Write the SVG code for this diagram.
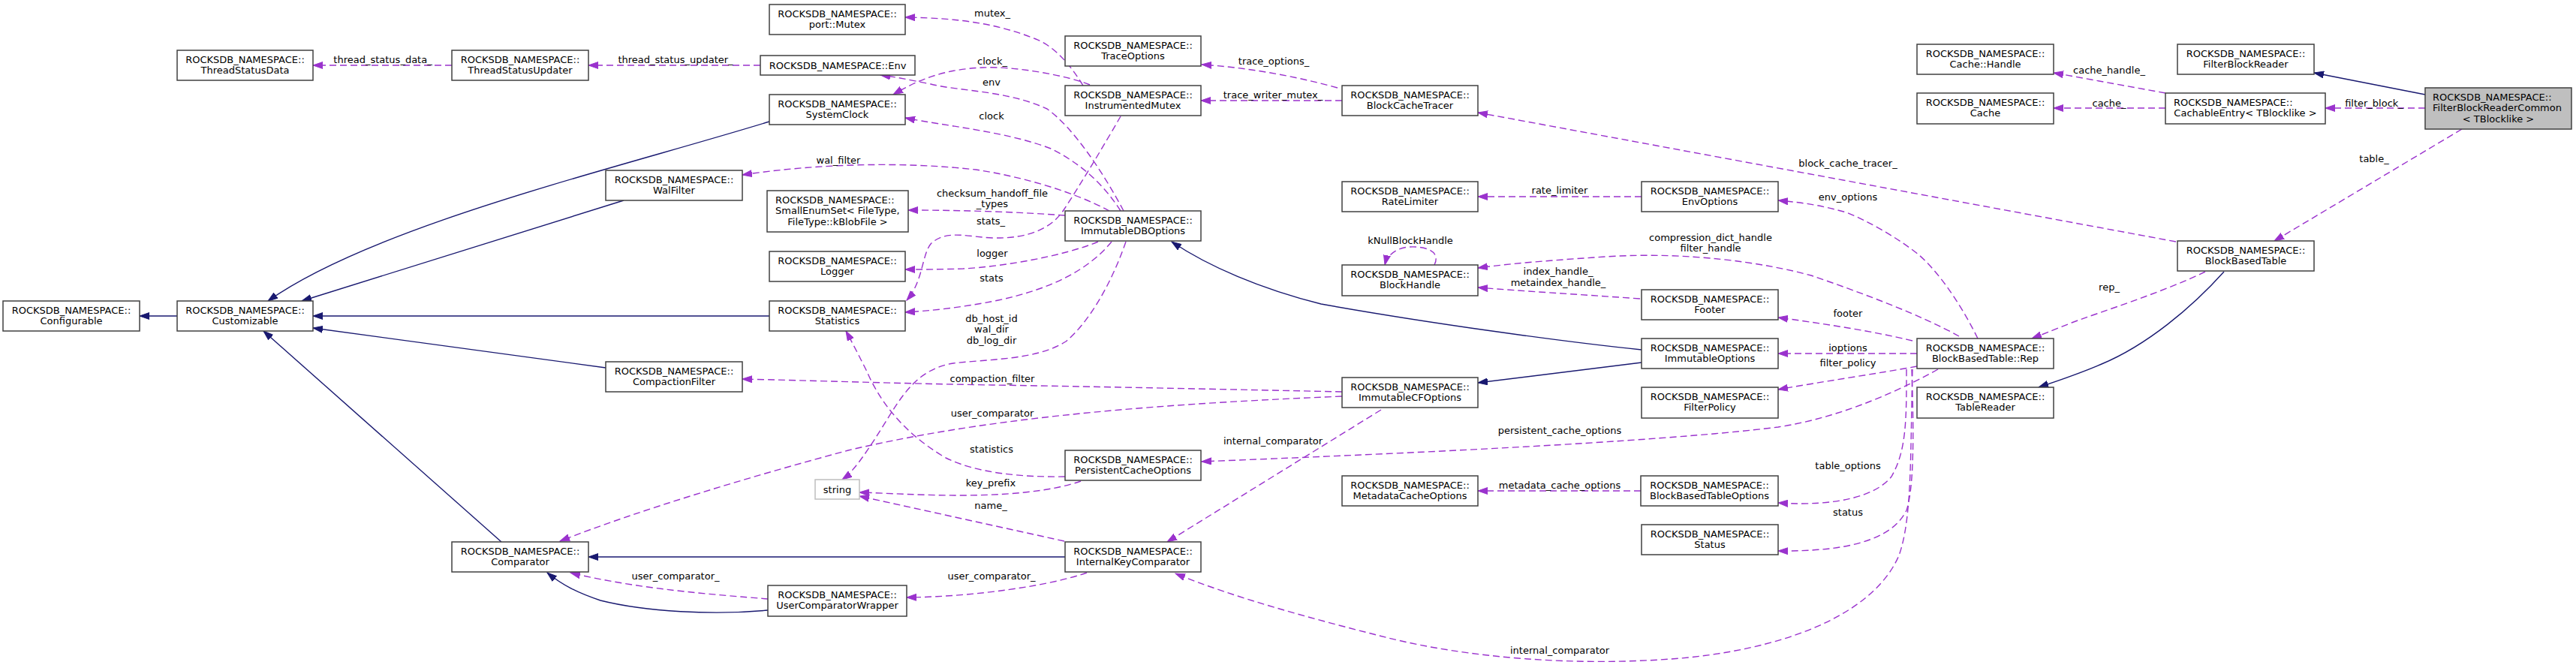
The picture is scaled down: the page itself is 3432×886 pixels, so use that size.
<svg xmlns="http://www.w3.org/2000/svg" width="3432" height="886" viewBox="0 0 3432 886">
<style>
text{font-family:"DejaVu Sans","Liberation Sans",sans-serif;font-size:13px;fill:#000}
.c{text-anchor:middle}
.n rect{fill:#fff;stroke:#404040;stroke-width:1.5}
.g rect{stroke:#bfbfbf}
.m rect{fill:#bfbfbf}
.i{stroke:#191970;fill:none;stroke-width:1.4;marker-end:url(#an)}
.d{stroke:#9a32cd;fill:none;stroke-width:1.4;stroke-dasharray:9,5;marker-end:url(#ap)}
</style>
<defs>
<marker id="an" markerUnits="userSpaceOnUse" markerWidth="14" markerHeight="10" refX="13" refY="5" orient="auto"><path d="M0,0.5 L13,5 L0,9.5 z" fill="#191970" stroke="#191970"/></marker>
<marker id="ap" markerUnits="userSpaceOnUse" markerWidth="14" markerHeight="10" refX="13" refY="5" orient="auto"><path d="M0,0.5 L13,5 L0,9.5 z" fill="#9a32cd" stroke="#9a32cd"/></marker>
</defs>
<rect width="3432" height="886" fill="#fff"/>
<g id="connectors">
<path class="i" d="M236,421 L186,421"/>
<path class="i" d="M1025,162 C820,225 500,300 357,401"/>
<path class="i" d="M831,267 L402,401"/>
<path class="i" d="M1025,421 L417,421"/>
<path class="i" d="M807,490 L417,437"/>
<path class="i" d="M668,722 L351,441"/>
<path class="i" d="M1419,742 L784,742"/>
<path class="i" d="M1023,813 C950,820 860,815 800,800 C770,790 750,780 729,763"/>
<path class="i" d="M2187,466 C2080,455 1900,430 1760,405 C1680,385 1610,355 1561,322"/>
<path class="i" d="M2187,483 L1969,510"/>
<path class="i" d="M3231,126 L3083,97"/>
<path class="i" d="M2963,362 C2920,410 2860,460 2800,485 C2770,498 2740,508 2716,516"/>

<path class="d" d="M602,87 L417,87"/>
<text class="c" x="510" y="83.5">thread_status_data_</text>
<path class="d" d="M1013,87 L784,87"/>
<text class="c" x="900" y="83.5">thread_status_updater_</text>
<path class="d" d="M1443,114 C1425,85 1405,62 1380,52 C1330,32 1280,24 1206,23"/>
<text class="c" x="1322" y="21.5">mutex_</text>
<path class="d" d="M1452,113 C1420,100 1350,88 1310,90 C1260,92 1225,105 1190,126"/>
<text class="c" x="1322" y="86">clock_</text>
<path class="d" d="M1497,281 C1470,230 1430,170 1395,145 C1340,120 1280,122 1240,112 C1210,106 1190,102 1173,100"/>
<text class="c" x="1321" y="114">env</text>
<path class="d" d="M1493,281 C1470,245 1440,218 1400,198 C1340,175 1260,168 1206,157"/>
<text class="c" x="1321" y="159">clock</text>
<path class="d" d="M1478,281 C1430,255 1360,235 1300,226 C1200,215 1090,218 989,233"/>
<text class="c" x="1117" y="217.5">wal_filter</text>
<path class="d" d="M1419,287 C1350,282 1280,280 1210,280"/>
<text class="c" x="1322" y="261.5">checksum_handoff_file</text>
<text class="c" x="1322" y="275.5">_types</text>
<path class="d" d="M1493,155 C1470,195 1440,245 1417,280 C1400,305 1370,318 1323,317 C1290,316 1260,305 1240,325 C1228,340 1230,375 1208,400"/>
<text class="c" x="1320" y="298.5">stats_</text>
<path class="d" d="M1463,322 C1420,340 1340,355 1283,358 C1250,359 1230,359 1206,359"/>
<text class="c" x="1322" y="341.5">logger</text>
<path class="d" d="M1481,322 C1450,360 1400,385 1330,400 C1280,410 1240,414 1206,416"/>
<text class="c" x="1321" y="374.5">stats</text>
<path class="d" d="M1500,322 C1480,380 1450,430 1420,455 C1380,480 1320,478 1270,484 C1220,492 1200,530 1175,570 C1150,610 1135,630 1122,639"/>
<text class="c" x="1321" y="428.5">db_host_id</text>
<text class="c" x="1321" y="442.5">wal_dir</text>
<text class="c" x="1321" y="457.5">db_log_dir</text>
<path class="d" d="M1419,635 C1360,636 1300,630 1260,610 C1200,575 1170,530 1155,495 C1140,465 1132,450 1127,441"/>
<text class="c" x="1321" y="602.5">statistics</text>
<path class="d" d="M1440,641 C1400,655 1340,660 1280,660 C1230,660 1180,657 1145,656"/>
<text class="c" x="1320" y="647.5">key_prefix</text>
<path class="d" d="M1418,721 L1145,661"/>
<text class="c" x="1320" y="677.5">name_</text>
<path class="d" d="M1448,763 C1400,780 1300,795 1208,796"/>
<text class="c" x="1321" y="771.5">user_comparator_</text>
<path class="d" d="M1023,798 C950,792 850,785 760,763"/>
<text class="c" x="900" y="771.5">user_comparator_</text>
<path class="d" d="M1788,522 C1600,518 1400,514 1322,513 C1200,511 1080,507 989,505"/>
<text class="c" x="1322" y="508.5">compaction_filter</text>
<path class="d" d="M1788,528 C1500,540 1300,560 1130,600 C1000,635 850,680 746,721"/>
<text class="c" x="1322" y="554.5">user_comparator</text>
<path class="d" d="M1840,546 L1555,722"/>
<text class="c" x="1696" y="591.5">internal_comparator</text>
<path class="d" d="M2582,492 C2540,515 2460,555 2369,569 C2200,590 1850,605 1601,615"/>
<text class="c" x="2078" y="577.5">persistent_cache_options</text>
<path class="d" d="M2548,492 C2545,600 2548,690 2530,740 C2500,810 2400,860 2250,876 C2100,890 1950,875 1850,850 C1750,825 1640,795 1566,764"/>
<text class="c" x="2078" y="870.5">internal_comparator</text>
<path class="d" d="M2540,492 C2540,560 2540,600 2520,635 C2500,660 2450,675 2369,670"/>
<text class="c" x="2462" y="624.5">table_options</text>
<path class="d" d="M2547,492 C2550,580 2550,650 2540,680 C2520,720 2460,735 2369,734"/>
<text class="c" x="2462" y="686.5">status</text>
<path class="d" d="M2554,488 C2500,498 2430,508 2369,519"/>
<text class="c" x="2462" y="487.5">filter_policy</text>
<path class="d" d="M2554,471 L2369,471"/>
<text class="c" x="2462" y="467.5">ioptions</text>
<path class="d" d="M2548,454 C2490,440 2420,430 2369,423"/>
<text class="c" x="2462" y="421.5">footer</text>
<path class="d" d="M2610,448 C2560,420 2480,390 2413,367 C2350,350 2250,335 2139,342 C2080,346 2020,350 1969,357"/>
<text class="c" x="2279" y="320.5">compression_dict_handle</text>
<text class="c" x="2279" y="334.5">filter_handle</text>
<path class="d" d="M2635,451 C2610,400 2580,360 2557,340 C2530,318 2490,295 2460,283 C2420,272 2400,270 2369,267"/>
<text class="c" x="2462" y="266.5">env_options</text>
<path class="d" d="M2185,398 C2100,392 2030,388 1969,383"/>
<text class="c" x="2076" y="365.5">index_handle_</text>
<text class="c" x="2076" y="380.5">metaindex_handle_</text>
<path class="d" d="M1911,353 C1920,335 1900,328 1878,329 C1860,330 1848,340 1845,353"/>
<text class="c" x="1879" y="324.5">kNullBlockHandle</text>
<path class="d" d="M2187,262 L1969,262"/>
<text class="c" x="2078" y="257.5">rate_limiter</text>
<path class="d" d="M2186,654 L1969,654"/>
<text class="c" x="2078" y="650.5">metadata_cache_options</text>
<path class="d" d="M1782,117 C1720,100 1660,90 1601,86"/>
<text class="c" x="1697" y="85.5">trace_options_</text>
<path class="d" d="M1788,134 L1600,134"/>
<text class="c" x="1696" y="130.5">trace_writer_mutex_</text>
<path class="d" d="M2899,322 L1969,150"/>
<text class="c" x="2462" y="221.5">block_cache_tracer_</text>
<path class="d" d="M3231,144 L3098,144"/>
<text class="c" x="3163" y="141.5">filter_block_</text>
<path class="d" d="M2885,144 L2736,144"/>
<text class="c" x="2810" y="141.5">cache_</text>
<path class="d" d="M2885,124 L2736,97"/>
<text class="c" x="2810" y="97.5">cache_handle_</text>
<path class="d" d="M3280,172 L3030,321"/>
<text class="c" x="3163" y="215.5">table_</text>
<path class="d" d="M2938,362 C2880,390 2800,415 2760,430 C2735,440 2720,446 2707,451"/>
<text class="c" x="2810" y="386.5">rep_</text>
</g>

<g id="n-configurable" class="n"><rect x="4" y="401" width="182" height="40"/><text class="c" x="95" y="417.5">ROCKSDB_NAMESPACE::</text><text class="c" x="95" y="432">Configurable</text></g>
<g id="n-customizable" class="n"><rect x="236" y="401" width="181" height="40"/><text class="c" x="326.5" y="417.5">ROCKSDB_NAMESPACE::</text><text class="c" x="326.5" y="432">Customizable</text></g>
<g id="n-threadstatusdata" class="n"><rect x="236" y="67" width="181" height="40"/><text class="c" x="326.5" y="83.5">ROCKSDB_NAMESPACE::</text><text class="c" x="326.5" y="98">ThreadStatusData</text></g>
<g id="n-threadstatusupdater" class="n"><rect x="602" y="67" width="182" height="40"/><text class="c" x="693" y="83.5">ROCKSDB_NAMESPACE::</text><text class="c" x="693" y="98">ThreadStatusUpdater</text></g>
<g id="n-walfilter" class="n"><rect x="807" y="227" width="182" height="40"/><text class="c" x="898" y="243.5">ROCKSDB_NAMESPACE::</text><text class="c" x="898" y="258">WalFilter</text></g>
<g id="n-compactionfilter" class="n"><rect x="807" y="482" width="182" height="40"/><text class="c" x="898" y="498.5">ROCKSDB_NAMESPACE::</text><text class="c" x="898" y="513">CompactionFilter</text></g>
<g id="n-comparator" class="n"><rect x="602" y="722" width="182" height="40"/><text class="c" x="693" y="738.5">ROCKSDB_NAMESPACE::</text><text class="c" x="693" y="753">Comparator</text></g>
<g id="n-portmutex" class="n"><rect x="1025" y="6" width="181" height="40"/><text class="c" x="1115.5" y="22.5">ROCKSDB_NAMESPACE::</text><text class="c" x="1115.5" y="37">port::Mutex</text></g>
<g id="n-env" class="n"><rect x="1013" y="74" width="206" height="26"/><text class="c" x="1116" y="91.5">ROCKSDB_NAMESPACE::Env</text></g>
<g id="n-systemclock" class="n"><rect x="1025" y="126" width="181" height="40"/><text class="c" x="1115.5" y="142.5">ROCKSDB_NAMESPACE::</text><text class="c" x="1115.5" y="157">SystemClock</text></g>
<g id="n-smallenumset" class="n"><rect x="1022" y="254" width="188" height="55"/><text x="1033" y="270.5">ROCKSDB_NAMESPACE::</text><text x="1033" y="285">SmallEnumSet&lt; FileType,</text><text class="c" x="1116" y="299.5">FileType::kBlobFile &gt;</text></g>
<g id="n-logger" class="n"><rect x="1025" y="335" width="181" height="40"/><text class="c" x="1115.5" y="351.5">ROCKSDB_NAMESPACE::</text><text class="c" x="1115.5" y="366">Logger</text></g>
<g id="n-statistics" class="n"><rect x="1025" y="401" width="181" height="40"/><text class="c" x="1115.5" y="417.5">ROCKSDB_NAMESPACE::</text><text class="c" x="1115.5" y="432">Statistics</text></g>
<g id="n-string" class="n g"><rect x="1086" y="639" width="59" height="26"/><text class="c" x="1115.5" y="656.5">string</text></g>
<g id="n-usercomparatorwrapper" class="n"><rect x="1023" y="780" width="185" height="41"/><text class="c" x="1115.5" y="796.5">ROCKSDB_NAMESPACE::</text><text class="c" x="1115.5" y="811">UserComparatorWrapper</text></g>
<g id="n-traceoptions" class="n"><rect x="1419" y="48" width="181" height="40"/><text class="c" x="1509.5" y="64.5">ROCKSDB_NAMESPACE::</text><text class="c" x="1509.5" y="79">TraceOptions</text></g>
<g id="n-instrumentedmutex" class="n"><rect x="1419" y="114" width="181" height="40"/><text class="c" x="1509.5" y="130.5">ROCKSDB_NAMESPACE::</text><text class="c" x="1509.5" y="145">InstrumentedMutex</text></g>
<g id="n-immutabledboptions" class="n"><rect x="1419" y="281" width="181" height="40"/><text class="c" x="1509.5" y="297.5">ROCKSDB_NAMESPACE::</text><text class="c" x="1509.5" y="312">ImmutableDBOptions</text></g>
<g id="n-persistentcacheoptions" class="n"><rect x="1419" y="600" width="181" height="40"/><text class="c" x="1509.5" y="616.5">ROCKSDB_NAMESPACE::</text><text class="c" x="1509.5" y="631">PersistentCacheOptions</text></g>
<g id="n-internalkeycomparator" class="n"><rect x="1419" y="722" width="181" height="40"/><text class="c" x="1509.5" y="738.5">ROCKSDB_NAMESPACE::</text><text class="c" x="1509.5" y="753">InternalKeyComparator</text></g>
<g id="n-blockcachetracer" class="n"><rect x="1788" y="114" width="181" height="40"/><text class="c" x="1878.5" y="130.5">ROCKSDB_NAMESPACE::</text><text class="c" x="1878.5" y="145">BlockCacheTracer</text></g>
<g id="n-ratelimiter" class="n"><rect x="1788" y="242" width="181" height="40"/><text class="c" x="1878.5" y="258.5">ROCKSDB_NAMESPACE::</text><text class="c" x="1878.5" y="273">RateLimiter</text></g>
<g id="n-blockhandle" class="n"><rect x="1788" y="353" width="181" height="41"/><text class="c" x="1878.5" y="369.5">ROCKSDB_NAMESPACE::</text><text class="c" x="1878.5" y="384">BlockHandle</text></g>
<g id="n-immutablecfoptions" class="n"><rect x="1788" y="503" width="181" height="40"/><text class="c" x="1878.5" y="519.5">ROCKSDB_NAMESPACE::</text><text class="c" x="1878.5" y="534">ImmutableCFOptions</text></g>
<g id="n-metadatacacheoptions" class="n"><rect x="1788" y="634" width="181" height="40"/><text class="c" x="1878.5" y="650.5">ROCKSDB_NAMESPACE::</text><text class="c" x="1878.5" y="665">MetadataCacheOptions</text></g>
<g id="n-envoptions" class="n"><rect x="2187" y="242" width="182" height="40"/><text class="c" x="2278" y="258.5">ROCKSDB_NAMESPACE::</text><text class="c" x="2278" y="273">EnvOptions</text></g>
<g id="n-footer" class="n"><rect x="2187" y="386" width="182" height="40"/><text class="c" x="2278" y="402.5">ROCKSDB_NAMESPACE::</text><text class="c" x="2278" y="417">Footer</text></g>
<g id="n-immutableoptions" class="n"><rect x="2187" y="451" width="182" height="40"/><text class="c" x="2278" y="467.5">ROCKSDB_NAMESPACE::</text><text class="c" x="2278" y="482">ImmutableOptions</text></g>
<g id="n-filterpolicy" class="n"><rect x="2187" y="516" width="182" height="41"/><text class="c" x="2278" y="532.5">ROCKSDB_NAMESPACE::</text><text class="c" x="2278" y="547">FilterPolicy</text></g>
<g id="n-blockbasedtableoptions" class="n"><rect x="2186" y="634" width="183" height="40"/><text class="c" x="2277.5" y="650.5">ROCKSDB_NAMESPACE::</text><text class="c" x="2277.5" y="665">BlockBasedTableOptions</text></g>
<g id="n-status" class="n"><rect x="2187" y="699" width="182" height="40"/><text class="c" x="2278" y="715.5">ROCKSDB_NAMESPACE::</text><text class="c" x="2278" y="730">Status</text></g>
<g id="n-cachehandle" class="n"><rect x="2554" y="59" width="182" height="40"/><text class="c" x="2645" y="75.5">ROCKSDB_NAMESPACE::</text><text class="c" x="2645" y="90">Cache::Handle</text></g>
<g id="n-cache" class="n"><rect x="2554" y="124" width="182" height="41"/><text class="c" x="2645" y="140.5">ROCKSDB_NAMESPACE::</text><text class="c" x="2645" y="155">Cache</text></g>
<g id="n-rep" class="n"><rect x="2554" y="451" width="182" height="40"/><text class="c" x="2645" y="467.5">ROCKSDB_NAMESPACE::</text><text class="c" x="2645" y="482">BlockBasedTable::Rep</text></g>
<g id="n-tablereader" class="n"><rect x="2554" y="516" width="182" height="41"/><text class="c" x="2645" y="532.5">ROCKSDB_NAMESPACE::</text><text class="c" x="2645" y="547">TableReader</text></g>
<g id="n-filterblockreader" class="n"><rect x="2901" y="59" width="182" height="40"/><text class="c" x="2992" y="75.5">ROCKSDB_NAMESPACE::</text><text class="c" x="2992" y="90">FilterBlockReader</text></g>
<g id="n-cachableentry" class="n"><rect x="2885" y="124" width="213" height="41"/><text x="2896" y="140.5">ROCKSDB_NAMESPACE::</text><text class="c" x="2991.5" y="155">CachableEntry&lt; TBlocklike &gt;</text></g>
<g id="n-blockbasedtable" class="n"><rect x="2901" y="321" width="182" height="40"/><text class="c" x="2992" y="337.5">ROCKSDB_NAMESPACE::</text><text class="c" x="2992" y="352">BlockBasedTable</text></g>
<g id="n-filterblockreadercommon" class="n m"><rect x="3231" y="117" width="195" height="55"/><text x="3241" y="133.5">ROCKSDB_NAMESPACE::</text><text x="3241" y="148">FilterBlockReaderCommon</text><text class="c" x="3328.5" y="162.5">&lt; TBlocklike &gt;</text></g>
</svg>
